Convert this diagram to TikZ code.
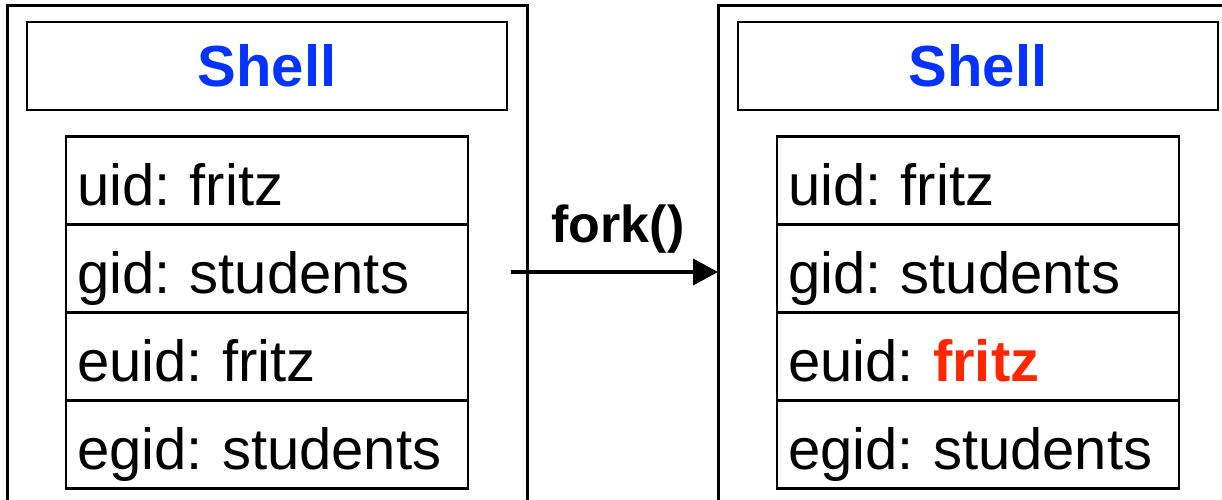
\documentclass[tikz,border=0pt]{standalone}
\usepackage{fontspec}
\setmainfont{Liberation Sans}
\usetikzlibrary{arrows.meta}
\definecolor{shellblue}{HTML}{0433FF}
\definecolor{forkred}{HTML}{FF2600}
\frenchspacing
\begin{document}
\begin{tikzpicture}[x=1pt,y=-1pt,
  outer/.style={draw,line width=3pt,inner sep=0pt,outer sep=0pt},
  shellbox/.style={draw,line width=2.8pt,minimum width=480pt,minimum height=88pt,inner sep=0pt,outer sep=0pt,
    text height=44pt,text depth=2pt,font=\fontsize{58}{60}\selectfont\bfseries,text=shellblue},
  row/.style={draw,line width=2.8pt,minimum height=88pt,text width=380pt,inner xsep=11pt,inner ysep=0pt,outer sep=0pt,
    align=left,text height=52pt,text depth=3pt,font=\fontsize{58}{60}\selectfont},
  arrowlbl/.style={font=\fontsize{52}{54}\selectfont\bfseries,inner sep=0pt},
  forkarrow/.style={line width=4pt,-{Triangle[length=25pt,width=26pt]}},
]
\useasboundingbox (0,0) rectangle (1222,500);
\begin{scope}
\clip (0,0) rectangle (1222,500);
\node[outer,minimum width=520pt,minimum height=514pt] (leftproc) at (267,263) {};
\node[outer,minimum width=522pt,minimum height=514pt] (rightproc) at (979,263) {};
\end{scope}
% left process
\node[shellbox] (lshell) at (267,66) {Shell};
\node[row] (luid) at (267,180.5) {uid: fritz};
\node[row,anchor=north] (lgid) at (luid.south) {gid: students};
\node[row,anchor=north] (leuid) at (lgid.south) {euid: fritz};
\node[row,anchor=north] (legid) at (leuid.south) {egid: students};
% right process
\node[shellbox] (rshell) at (978,66) {Shell};
\node[row] (ruid) at (978,180.5) {uid: fritz};
\node[row,anchor=north] (rgid) at (ruid.south) {gid: students};
\node[row,anchor=north] (reuid) at (rgid.south) {euid: \textcolor{forkred}{\bfseries fritz}};
\node[row,anchor=north] (regid) at (reuid.south) {egid: students};
% fork arrow
\coordinate (forkstart) at (511,272);
\draw[forkarrow] (forkstart) -- (rightproc.west |- forkstart);
\node[arrowlbl,anchor=base] (forklbl) at (618,242) {fork()};
\end{tikzpicture}
\end{document}
